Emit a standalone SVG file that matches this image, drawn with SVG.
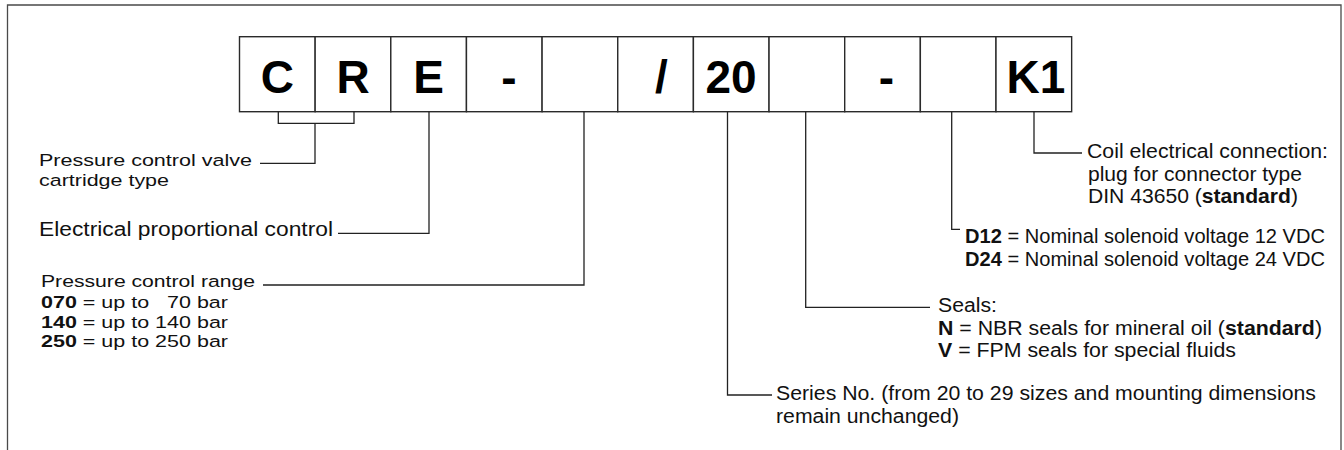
<svg xmlns="http://www.w3.org/2000/svg" width="1344" height="450" viewBox="0 0 1344 450">
<style>
.frame{fill:none;stroke:#4a4a4a;stroke-width:1.3}
.box{fill:#fff;stroke:#2a2a2a;stroke-width:1.4}
.big{font-family:"Liberation Sans",Arial,sans-serif;font-weight:bold;font-size:46px;fill:#000;text-anchor:middle}
.lead{fill:none;stroke:#222;stroke-width:1.3}
.t{font-family:"Liberation Sans",Arial,sans-serif;font-size:20px;fill:#111;white-space:pre}
.s{font-size:17.4px}
.b{font-weight:bold}
</style>
<rect width="1344" height="450" fill="#fff"/>
<path class="frame" d="M7.5,450 V5 H1341 V450"/>
<g id="code">
<g id="box1"><rect class="box" x="239.5" y="36.7" width="75.65" height="75"/><text class="big" x="277.3" y="92.5">C</text></g>
<g id="box2"><rect class="box" x="315.15" y="36.7" width="75.65" height="75"/><text class="big" x="353" y="92.5">R</text></g>
<g id="box3"><rect class="box" x="390.8" y="36.7" width="75.65" height="75"/><text class="big" x="428.6" y="92.5">E</text></g>
<g id="box4"><rect class="box" x="466.45" y="36.7" width="75.65" height="75"/><text class="big" x="509" y="92.5">-</text></g>
<g id="box5"><rect class="box" x="542.1" y="36.7" width="75.65" height="75"/></g>
<g id="box6"><rect class="box" x="617.75" y="36.7" width="75.65" height="75"/><text class="big" x="661.5" y="92.5">/</text></g>
<g id="box7"><rect class="box" x="693.4" y="36.7" width="75.65" height="75"/><text class="big" x="731" y="92.5">20</text></g>
<g id="box8"><rect class="box" x="769.05" y="36.7" width="75.65" height="75"/></g>
<g id="box9"><rect class="box" x="844.7" y="36.7" width="75.65" height="75"/><text class="big" x="886.5" y="92.5">-</text></g>
<g id="box10"><rect class="box" x="920.35" y="36.7" width="75.65" height="75"/></g>
<g id="box11"><rect class="box" x="996" y="36.7" width="75.65" height="75"/><text class="big" x="1036" y="92.5">K1</text></g>
</g>
<g id="connectors">
<path class="lead" d="M278.3,111.7 V123.3 H354 V111.7"/>
<path class="lead" d="M315,123.3 V163.3 H260"/>
<path class="lead" d="M429,111.7 V233.3 H338"/>
<path class="lead" d="M584,111.7 V285 H263"/>
<path class="lead" d="M727.5,111.7 V395 H772"/>
<path class="lead" d="M805.7,111.7 V307.4 H930"/>
<path class="lead" d="M951.7,111.7 V229.3 H960"/>
<path class="lead" d="M1034,111.7 V153 H1082"/>
</g>
<g id="label-type">
<text class="t s" x="39" y="166" textLength="213" lengthAdjust="spacingAndGlyphs">Pressure control valve</text>
<text class="t s" x="39" y="185.6" textLength="130" lengthAdjust="spacingAndGlyphs">cartridge type</text>
</g>
<g id="label-control">
<text class="t" x="39" y="236" textLength="294" lengthAdjust="spacingAndGlyphs">Electrical proportional control</text>
</g>
<g id="label-range">
<text class="t s" x="41" y="286.5" textLength="214" lengthAdjust="spacingAndGlyphs">Pressure control range</text>
<text class="t s" x="41" y="308" textLength="187" lengthAdjust="spacingAndGlyphs"><tspan class="b">070</tspan> = up to   70 bar</text>
<text class="t s" x="41" y="327.6" textLength="187" lengthAdjust="spacingAndGlyphs"><tspan class="b">140</tspan> = up to 140 bar</text>
<text class="t s" x="41" y="347.2" textLength="187" lengthAdjust="spacingAndGlyphs"><tspan class="b">250</tspan> = up to 250 bar</text>
</g>
<g id="label-coil">
<text class="t" x="1087" y="158" textLength="241" lengthAdjust="spacingAndGlyphs">Coil electrical connection:</text>
<text class="t" x="1088" y="180.5" textLength="214" lengthAdjust="spacingAndGlyphs">plug for connector type</text>
<text class="t" x="1088" y="203" textLength="210" lengthAdjust="spacingAndGlyphs">DIN 43650 (<tspan class="b">standard</tspan>)</text>
</g>
<g id="label-voltage">
<text class="t" x="965" y="243" textLength="360" lengthAdjust="spacingAndGlyphs"><tspan class="b">D12</tspan> = Nominal solenoid voltage 12 VDC</text>
<text class="t" x="965" y="265.5" textLength="360" lengthAdjust="spacingAndGlyphs"><tspan class="b">D24</tspan> = Nominal solenoid voltage 24 VDC</text>
</g>
<g id="label-seals">
<text class="t" x="938" y="312" textLength="59" lengthAdjust="spacingAndGlyphs">Seals:</text>
<text class="t" x="938" y="334.5" textLength="384" lengthAdjust="spacingAndGlyphs"><tspan class="b">N</tspan> = NBR seals for mineral oil (<tspan class="b">standard</tspan>)</text>
<text class="t" x="938" y="357" textLength="298" lengthAdjust="spacingAndGlyphs"><tspan class="b">V</tspan> = FPM seals for special fluids</text>
</g>
<g id="label-series">
<text class="t" x="776" y="400" textLength="540" lengthAdjust="spacingAndGlyphs">Series No. (from 20 to 29 sizes and mounting dimensions</text>
<text class="t" x="776" y="422.5" textLength="183" lengthAdjust="spacingAndGlyphs">remain unchanged)</text>
</g>
</svg>
